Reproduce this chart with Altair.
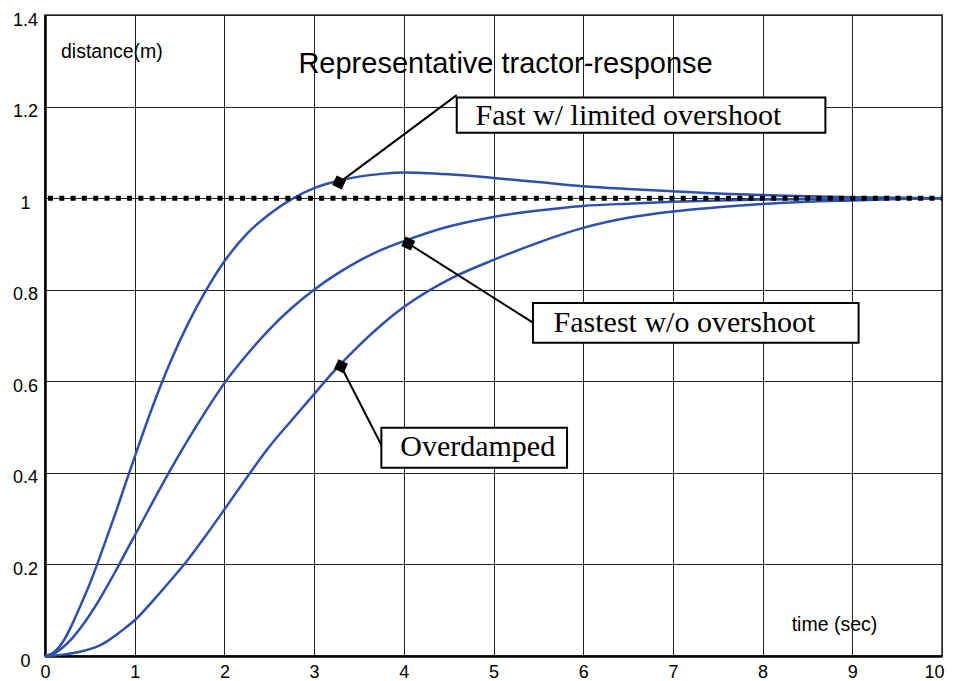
import altair as alt
import pandas as pd

# ---- data ----
time_s = [0, 0.1, 0.2, 0.3, 0.4, 0.5, 0.6, 0.7, 0.8, 0.9, 1.0, 1.2, 1.4, 1.6, 1.8,
          2.0, 2.25, 2.5, 2.75, 3.0, 3.25, 3.5, 3.75, 4.0, 4.5, 5.0, 5.5, 6.0, 6.5,
          7.0, 7.5, 8.0, 8.5, 9.0, 9.5, 10.0]
fast_overshoot = [0, 0.008, 0.031, 0.068, 0.112, 0.158, 0.21, 0.265, 0.32, 0.378, 0.435,
                  0.545, 0.643, 0.728, 0.800, 0.862, 0.922, 0.965, 0.998, 1.022, 1.037,
                  1.047, 1.053, 1.056, 1.052, 1.044, 1.035, 1.026, 1.02, 1.015, 1.01,
                  1.007, 1.004, 1.002, 1.001, 1.0]
fastest_no_overshoot = [0, 0.005, 0.019, 0.038, 0.062, 0.09, 0.121, 0.155, 0.19, 0.227, 0.263,
                        0.336, 0.407, 0.474, 0.537, 0.596, 0.658, 0.713, 0.76, 0.80, 0.834,
                        0.863, 0.887, 0.906, 0.938, 0.959, 0.973, 0.983, 0.988, 0.992,
                        0.995, 0.997, 0.998, 0.999, 1.0, 1.0]
overdamped = [0, 0.001, 0.003, 0.006, 0.01, 0.015, 0.022, 0.033, 0.047, 0.062, 0.078,
              0.12, 0.165, 0.212, 0.265, 0.32, 0.39, 0.457, 0.515, 0.572, 0.628,
              0.678, 0.723, 0.762, 0.822, 0.865, 0.903, 0.935, 0.957, 0.971, 0.98,
              0.987, 0.992, 0.995, 0.998, 1.0]

x_ticks = [0, 1, 2, 3, 4, 5, 6, 7, 8, 9, 10]
y_ticks = [0, 0.2, 0.4, 0.6, 0.8, 1, 1.2, 1.4]
setpoint = [1.0]

labels = ["Fast w/ limited overshoot", "Fastest w/o overshoot", "Overdamped"]
marker_x = [3.28, 4.05, 3.30]
marker_y = [1.034, 0.901, 0.633]
leader_end_x = [4.59, 5.44, 3.75]
leader_end_y = [1.225, 0.728, 0.461]
box_x1 = [4.59, 5.44, 3.75]
box_x2 = [8.70, 9.07, 5.82]
box_y1 = [1.22, 0.771, 0.4985]
box_y2 = [1.1426, 0.684, 0.411]
text_x = [4.80, 5.67, 3.96]
text_y = [1.159, 0.708, 0.4367]

title_text = ["Representative tractor-response"]
title_x = [5.134]
title_y = [1.2736]
axis_notes = ["distance(m)", "time (sec)"]
note_x = [0.178, 8.324]
note_y = [1.305, 0.0553]

# ---- tables ----
curves = pd.DataFrame({
    "t": time_s * 3,
    "d": fast_overshoot + fastest_no_overshoot + overdamped,
    "series": ["fast"] * len(time_s) + ["fastest"] * len(time_s) + ["over"] * len(time_s),
})
ann = pd.DataFrame({
    "label": labels, "mx": marker_x, "my": marker_y, "lx": leader_end_x, "ly": leader_end_y,
    "bx1": box_x1, "bx2": box_x2, "by1": box_y1, "by2": box_y2, "tx": text_x, "ty": text_y,
})
sp = pd.DataFrame({"v": setpoint})
ttl = pd.DataFrame({"text": title_text, "x": title_x, "y": title_y})
notes = pd.DataFrame({"text": axis_notes, "x": note_x, "y": note_y})

xs = alt.Scale(domain=[0, 10], nice=False, zero=False)
ys = alt.Scale(domain=[0, 1.4], nice=False, zero=False)

x_axis = alt.Axis(values=x_ticks, grid=True, ticks=False, title=None, format=".1~f",
                  labelFont="Liberation Sans", labelFontSize=18, labelColor="black",
                  labelBaseline="top", labelPadding=7, labelFlush=False,
                  labelOffset={"expr": "datum.value == 10 ? -8 : 0"},
                  gridColor="#222222", gridWidth=1, domainColor="black", domainWidth=2.5)
y_axis = alt.Axis(values=y_ticks, grid=True, ticks=False, title=None, format=".1~f",
                  labelFont="Liberation Sans", labelFontSize=18, labelColor="black",
                  labelAlign="center", labelBaseline="middle", labelPadding=20,
                  labelOffset=5, labelFlush=False,
                  gridColor="#222222", gridWidth=1, domainColor="black", domainWidth=2.5)


def X(field):
    return alt.X(field, type="quantitative", scale=xs, axis=x_axis)


def Y(field):
    return alt.Y(field, type="quantitative", scale=ys, axis=y_axis)


lines = alt.Chart(curves).mark_line(color="#3050a8", strokeWidth=2.5,
                                    interpolate="monotone").encode(
    x=X("t"), y=Y("d"), detail="series:N",
)

dotted = alt.Chart(sp).mark_rule(color="black", strokeWidth=5, strokeDash=[5, 6.3],
                                 strokeDashOffset=-3).encode(
    y=Y("v"), x=alt.value(0), x2=alt.value(897),
)

leaders = alt.Chart(ann).mark_rule(color="black", strokeWidth=2).encode(
    x=X("mx"), y=Y("my"), x2="lx:Q", y2="ly:Q",
)

markers = alt.Chart(ann).mark_point(shape="square", filled=True, color="black",
                                    size=110, opacity=1, angle=25).encode(
    x=X("mx"), y=Y("my"),
)

boxes = alt.Chart(ann).mark_rect(fill="white", stroke="black", strokeWidth=2).encode(
    x=X("bx1"), x2="bx2:Q", y=Y("by1"), y2="by2:Q",
)

box_text = alt.Chart(ann).mark_text(font="Liberation Serif", fontSize=30, align="left",
                                    baseline="alphabetic", color="black").encode(
    x=X("tx"), y=Y("ty"), text="label:N",
)

title_mark = alt.Chart(ttl).mark_text(font="Liberation Sans", fontSize=29, align="center",
                                      baseline="alphabetic", color="black").encode(
    x=X("x"), y=Y("y"), text="text:N",
)

note_mark = alt.Chart(notes).mark_text(font="Liberation Sans", fontSize=19.5, align="left",
                                       baseline="alphabetic", color="black").encode(
    x=X("x"), y=Y("y"), text="text:N",
)

chart = alt.layer(
    lines, dotted, leaders, markers, boxes, box_text, title_mark, note_mark
).properties(
    width=897, height=641,
    autosize=alt.AutoSizeParams(type="none"),
    padding={"left": 37, "top": 7, "right": 3, "bottom": 25},
    background="white",
).configure_view(stroke="#333333", strokeWidth=1.5)

chart.save("out.html", embed_options={"renderer": "svg", "actions": False})
